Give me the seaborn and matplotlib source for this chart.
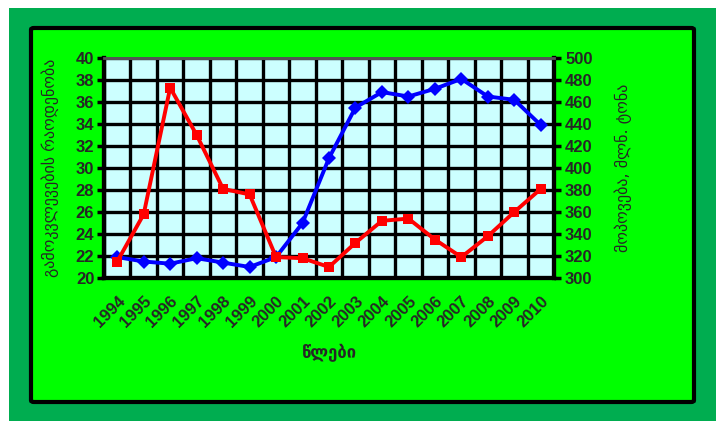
import matplotlib
matplotlib.use("Agg")
import matplotlib.pyplot as plt
from matplotlib.patches import Rectangle, FancyBboxPatch
import numpy as np
import pandas as pd
import seaborn as sns

# Data
years = ["1994", "1995", "1996", "1997", "1998", "1999", "2000", "2001", "2002",
         "2003", "2004", "2005", "2006", "2007", "2008", "2009", "2010"]
studies = [21.9, 21.5, 21.3, 21.8, 21.4, 21.0, 21.9, 25.0, 30.9,
           35.5, 36.9, 36.5, 37.2, 38.1, 36.5, 36.2, 33.9]
output = [315, 358, 473, 430, 381, 376, 319, 318, 310,
          332, 352, 354, 335, 319, 338, 360, 381]

left_label = "გამოკვლევების რაოდენობა"
right_label = "მოპოვება, მლნ. ტონა"
x_label = "წლები"

df = pd.DataFrame({"pos": np.arange(len(years)), "studies": studies, "output": output})

sns.set_theme(style="white")
plt.rcParams["font.family"] = ["DejaVu Sans"]

W, H = 716, 421
fig = plt.figure(figsize=(W / 100, H / 100), dpi=100, facecolor="white")

# Outer dark-green band and lime panel with black rounded frame
fig.patches.append(Rectangle((9 / W, 0), 1 - 9 / W, (H - 8) / H, transform=fig.transFigure,
                             facecolor="#00AD50", edgecolor="none", zorder=-3))
fig.patches.append(FancyBboxPatch((31 / W, (H - 402) / H), (694 - 31) / W, (402 - 28) / H,
                                  boxstyle="round,pad=0,rounding_size=0.004",
                                  transform=fig.transFigure, facecolor="#00FF00",
                                  edgecolor="black", linewidth=3, zorder=-2))

left, right, top, bottom = 104, 554, 58, 278
ax = fig.add_axes([left / W, 1 - bottom / H, (right - left) / W, (bottom - top) / H])
ax.set_facecolor("#CCFFFF")
ax2 = ax.twinx()

sns.lineplot(data=df, x="pos", y="studies", ax=ax, color="#0000FF", linewidth=2.8,
             marker="D", markersize=7.5, markeredgewidth=0, zorder=5)
sns.lineplot(data=df, x="pos", y="output", ax=ax2, color="#FF0000", linewidth=2.8,
             marker="s", markersize=7.5, markeredgewidth=0, zorder=5)

n = len(years)
ax.set_xlim(-0.5, n - 0.5)
ax.set_ylim(20, 40)
ax2.set_ylim(300, 500)

tick_font = dict(fontsize=12, fontweight="bold", family="Liberation Sans")

# Gridlines at category boundaries; labels at category centres
ax.set_xticks(np.arange(-0.5, n, 1.0))
ax.set_xticklabels([])
ax.set_xticks(np.arange(n), minor=True)
ax.set_xticklabels(years, minor=True, rotation=45, ha="right", rotation_mode="anchor",
                   **tick_font)
ax.tick_params(axis="x", which="minor", length=0, pad=11)
ax.tick_params(axis="x", which="major", length=5, width=2.5, color="black", direction="out")

ax.set_yticks(np.arange(20, 41, 2))
ax.set_yticklabels([str(v) for v in range(20, 41, 2)], **tick_font)
ax.tick_params(axis="y", length=5, width=2.5, color="black", direction="out", pad=2)
ax2.set_yticks(np.arange(300, 501, 20))
ax2.set_yticklabels([str(v) for v in range(300, 501, 20)], **tick_font)
ax2.tick_params(axis="y", length=5, width=2.5, color="black", direction="out", pad=3)

ax.grid(True, which="major", color="black", linewidth=2.4)
ax.set_axisbelow(True)
ax2.grid(False)

for a in (ax, ax2):
    for side in ("left", "bottom", "right"):
        a.spines[side].set_color("black")
        a.spines[side].set_linewidth(3)
    a.spines["top"].set_color("#555555")
    a.spines["top"].set_linewidth(2)

ax.set_xlabel(x_label, fontsize=12, fontweight="bold", labelpad=10)
ax.set_ylabel(left_label, fontsize=11.5, labelpad=12)
ax2.set_ylabel(right_label, fontsize=11.5, labelpad=16)

fig.savefig("out.png", dpi=100, facecolor="white")
